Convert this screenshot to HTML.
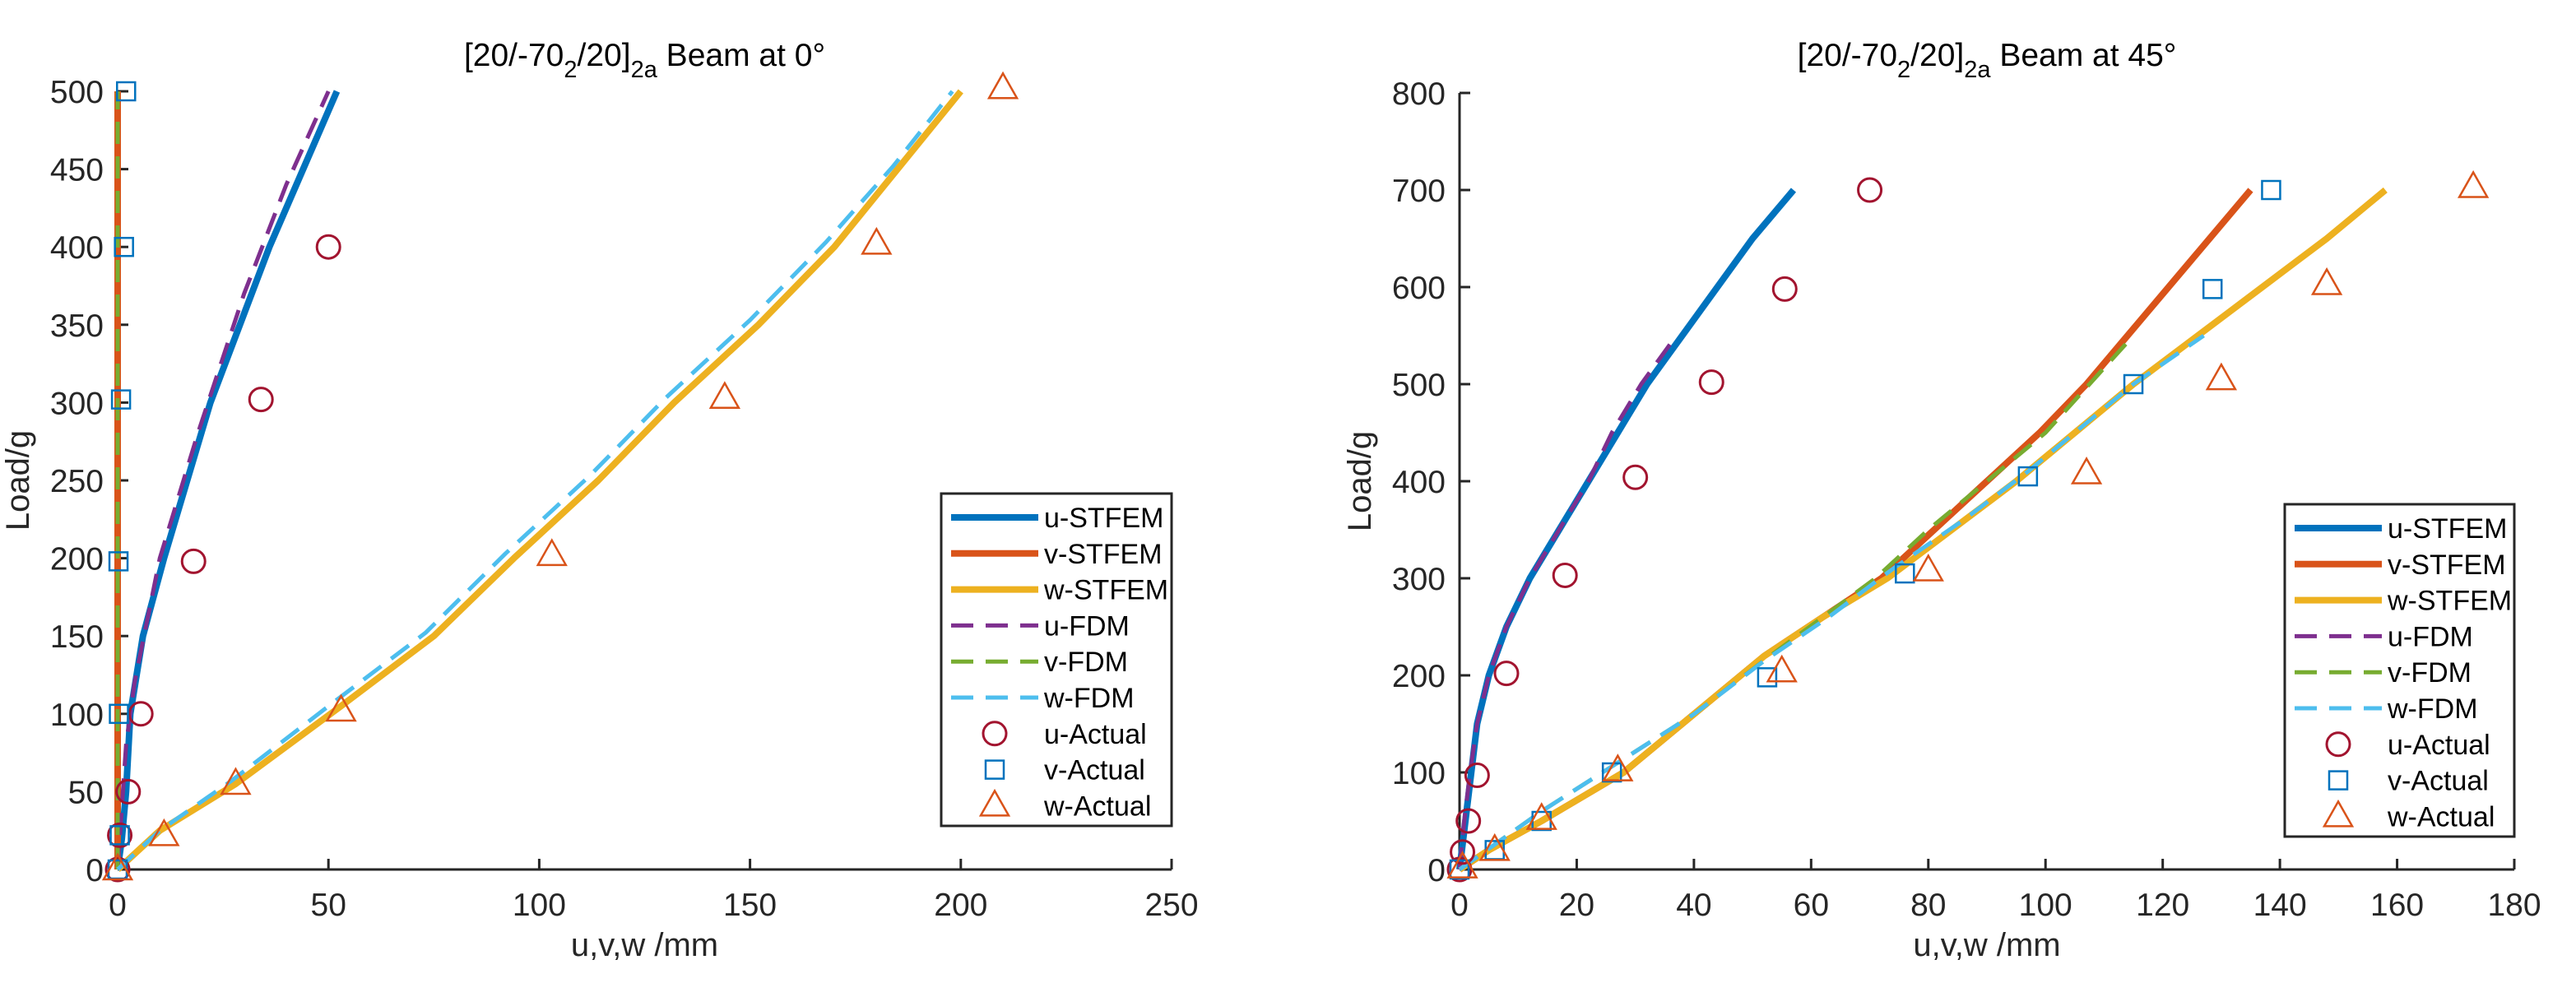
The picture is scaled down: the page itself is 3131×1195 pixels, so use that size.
<!DOCTYPE html>
<html><head><meta charset="utf-8">
<style>
html,body{margin:0;padding:0;background:#fff;}
svg{display:block;font-family:"Liberation Sans",Arial,sans-serif;}
</style></head>
<body>
<svg id="fig" width="3131" height="1195" viewBox="0 0 3131 1195" xmlns="http://www.w3.org/2000/svg"></svg>
<script>
// ---------- Left chart data (Beam at 0°) ----------
const L_uS_x=[0,1,2,3,6,11,22,36,44,52];
const L_uS_y=[0,20,50,100,150,200,300,400,450,500];
const L_uF_x=[0,1,2,4,7,10,19,30,40,50];
const L_uF_y=[0,40,80,120,160,200,280,370,440,500];
const L_vS_x=[0,0];
const L_vS_y=[0,500];
const L_vF_x=[0,0];
const L_vF_y=[0,500];
const L_wS_x=[0,10,28,53,75,94,114,132,152,170,185,200];
const L_wS_y=[0,25,55,105,150,200,250,300,350,400,450,500];
const L_wF_x=[0,10,27,51,73,92,112,130,150,168,184,198];
const L_wF_y=[0,25,57,107,152,203,253,303,353,403,452,500];
const L_uA_x=[0,0.5,2.5,5.5,18,34,50];
const L_uA_y=[0,22,50,100,198,302,400];
const L_vA_x=[0,0.5,0.3,0.2,0.8,1.5,2];
const L_vA_y=[0,22,100,198,302,400,500];
const L_wA_x=[0,11,28,53,103,144,180,210];
const L_wA_y=[0,22,55,102,202,303,402,502];
const L_xticks=[0,50,100,150,200,250];
const L_yticks=[0,50,100,150,200,250,300,350,400,450,500];
// ---------- Right chart data (Beam at 45°) ----------
const R_uS_x=[0,1,2,3,5,8,12,17,22,27,32,38,44,50,57];
const R_uS_y=[0,50,100,150,200,250,300,350,400,450,500,550,600,650,700];
const R_uF_x=[0,0.8,1.8,3,5,8,12,17,22,26,31,37];
const R_uF_y=[0,50,100,150,200,250,300,350,400,450,500,550];
const R_vS_x=[0,5,14,28,36,44,52,62,72,81,90,99,107,114,121,128,135];
const R_vS_y=[0,20,50,100,140,180,220,260,300,350,400,450,500,550,600,650,700];
const R_vF_x=[0,7,14,27,40,53,62,71,80,90,100,115];
const R_vF_y=[0,30,60,110,160,220,260,300,350,400,450,550];
const R_wS_x=[0,5,14,28,36,44,52,62,73,84,95,105,115,126,137,148,158];
const R_wS_y=[0,20,50,100,140,180,220,260,300,350,400,450,500,550,600,650,700];
const R_wF_x=[0,7,14,27,40,52,63,74,86,97,106,115,127];
const R_wF_y=[0,30,60,110,160,215,260,310,360,410,455,500,550];
const R_uA_x=[0,0.5,1.5,3,8,18,30,43,55.5,70];
const R_uA_y=[0,18,50,97,202,303,404,502,598,700];
const R_vA_x=[0,6,14,26,52.5,76,97,115,128.5,138.5];
const R_vA_y=[0,20,50,100,198,305,405,500,598,700];
const R_wA_x=[0.5,6,14,27,55,80,107,130,148,173];
const R_wA_y=[2,20,52,102,204,308,408,505,603,703];
const R_xticks=[0,20,40,60,80,100,120,140,160,180];
const R_yticks=[0,100,200,300,400,500,600,700,800];

const NS="http://www.w3.org/2000/svg";
const svg=document.getElementById('fig');
function mk(tag,attrs,parent){const e=document.createElementNS(NS,tag);for(const k in attrs)e.setAttribute(k,attrs[k]);(parent||svg).appendChild(e);return e;}
const C={uS:'#0072BD',vS:'#D95319',wS:'#EDB120',uF:'#7E2F8E',vF:'#77AC30',wF:'#4DBEEE',uA:'#A2142F',vA:'#0072BD',wA:'#D95319'};

function marker(g,type,cx,cy,col){
  let m;
  if(type==='o') m=mk('circle',{cx:cx,cy:cy,r:14,fill:'none',stroke:col,'stroke-width':3},g);
  else if(type==='s') m=mk('rect',{x:cx-11,y:cy-11,width:22,height:22,fill:'none',stroke:col,'stroke-width':2.5},g);
  else m=mk('polygon',{points:`${cx},${cy-18} ${cx+17},${cy+12} ${cx-17},${cy+12}`,fill:'none',stroke:col,'stroke-width':2.5},g);
  return m;
}

function chart(o){
  const g=mk('g',{});
  
  
  const sx=v=>o.x0+(v-o.xmin)*(o.x1-o.x0)/(o.xmax-o.xmin);
  const sy=v=>o.y0-(v-o.ymin)*(o.y0-o.y1)/(o.ymax-o.ymin);
  const ax=mk('g',{},g);
  
  
  mk('line',{x1:o.x0,y1:o.y0,x2:o.x1,y2:o.y0,stroke:'#262626','stroke-width':3},ax);
  mk('line',{x1:o.x0,y1:o.y0,x2:o.x0,y2:o.y1,stroke:'#262626','stroke-width':3},ax);
  o.xticks.forEach(t=>{
    mk('line',{x1:sx(t),y1:o.y0,x2:sx(t),y2:o.y0-13,stroke:'#262626','stroke-width':3},ax);
    const tx=mk('text',{x:sx(t),y:o.y0+56,'font-size':39,'text-anchor':'middle',fill:'#262626'},ax);
    
    
    tx.textContent=t;
  });
  o.yticks.forEach(t=>{
    mk('line',{x1:o.x0,y1:sy(t),x2:o.x0+13,y2:sy(t),stroke:'#262626','stroke-width':3},ax);
    const ty=mk('text',{x:o.x0-17,y:sy(t)+14,'font-size':39,'text-anchor':'end',fill:'#262626'},ax);
    
    
    ty.textContent=t;
  });
  const xl=mk('text',{x:(o.x0+o.x1)/2,y:1162,'font-size':40,'text-anchor':'middle',fill:'#262626'},g);
  
  
  xl.textContent='u,v,w /mm';
  const yl=mk('text',{x:0,y:0,'font-size':40,'text-anchor':'middle',fill:'#262626',transform:`translate(${o.x0-o.ylabOff},${(o.y0+o.y1)/2}) rotate(-90)`},g);
  
  
  yl.textContent='Load/g';
  const ti=mk('text',{x:(o.x0+o.x1)/2,y:80,'font-size':39,'text-anchor':'middle',fill:'#000'},g);
  
  
  ti.innerHTML='[20/-70<tspan dy="14" font-size="29">2</tspan><tspan dy="-14">/20]</tspan><tspan dy="14" font-size="29">2a</tspan><tspan dy="-14"> Beam at '+o.ang+'°</tspan>';
  const lines=[
    ['uS','u-stfem-line',o.d.uS,8,null],['vS','v-stfem-line',o.d.vS,8,null],['wS','w-stfem-line',o.d.wS,8,null],
    ['uF','u-fdm-line',o.d.uF,5,'27 15'],['vF','v-fdm-line',o.d.vF,5,'27 15'],['wF','w-fdm-line',o.d.wF,5,'27 15']];
  lines.forEach(([k,nm,d,w,dash])=>{
    const pts=d[0].map((x,i)=>sx(x)+','+sy(d[1][i])).join(' ');
    const a={points:pts,fill:'none',stroke:C[k],'stroke-width':w,'stroke-linejoin':'round'};
    if(dash)a['stroke-dasharray']=dash;
    const p=mk('polyline',a,g);
    
    
  });
  [['uA','o','u-actual-point',o.d.uA],['vA','s','v-actual-point',o.d.vA],['wA','t','w-actual-point',o.d.wA]].forEach(([k,t,nm,d])=>{
    d[0].forEach((x,i)=>{
      const m=marker(g,t,sx(x),sy(d[1][i]),C[k]);
      
      
    });
  });
  const lg=mk('g',{},g);
  
  
  mk('rect',{x:o.lx,y:o.ly,width:o.lw,height:404,fill:'#fff',stroke:'#262626','stroke-width':3},lg);
  const ent=[['uS','u-STFEM','l',8,null],['vS','v-STFEM','l',8,null],['wS','w-STFEM','l',8,null],
    ['uF','u-FDM','l',5,'27 15'],['vF','v-FDM','l',5,'27 15'],['wF','w-FDM','l',5,'27 15'],
    ['uA','u-Actual','o'],['vA','v-Actual','s'],['wA','w-Actual','t']];
  ent.forEach((e,i)=>{
    const cy=o.ly+29+i*43.8;
    const eg=mk('g',{},lg);
    
    
    if(e[2]==='l'){
      const a={x1:o.lx+12,y1:cy,x2:o.lx+118,y2:cy,stroke:C[e[0]],'stroke-width':e[3]};
      if(e[4])a['stroke-dasharray']=e[4];
      mk('line',a,eg);
    } else marker(eg,e[2],o.lx+65,cy,C[e[0]]);
    const t=mk('text',{x:o.lx+125,y:cy+12,'font-size':34,fill:'#000'},eg);
    t.textContent=e[1];
  });
}

chart({name:'chart-0-deg',ang:0,x0:143,x1:1424,y0:1057,y1:111,xmin:0,xmax:250,ymin:0,ymax:500,
  xticks:L_xticks,yticks:L_yticks,ylabOff:108,lx:1144,ly:600,lw:280,
  d:{uS:[L_uS_x,L_uS_y],vS:[L_vS_x,L_vS_y],wS:[L_wS_x,L_wS_y],uF:[L_uF_x,L_uF_y],vF:[L_vF_x,L_vF_y],wF:[L_wF_x,L_wF_y],
     uA:[L_uA_x,L_uA_y],vA:[L_vA_x,L_vA_y],wA:[L_wA_x,L_wA_y]}});
chart({name:'chart-45-deg',ang:45,x0:1774,x1:3056,y0:1057,y1:113,xmin:0,xmax:180,ymin:0,ymax:800,
  xticks:R_xticks,yticks:R_yticks,ylabOff:108,lx:2777,ly:613,lw:279,
  d:{uS:[R_uS_x,R_uS_y],vS:[R_vS_x,R_vS_y],wS:[R_wS_x,R_wS_y],uF:[R_uF_x,R_uF_y],vF:[R_vF_x,R_vF_y],wF:[R_wF_x,R_wF_y],
     uA:[R_uA_x,R_uA_y],vA:[R_vA_x,R_vA_y],wA:[R_wA_x,R_wA_y]}});
</script>
</body></html>
